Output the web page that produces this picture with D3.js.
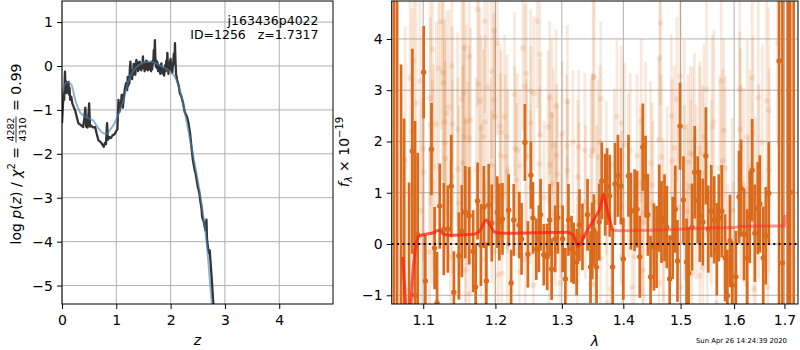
<!DOCTYPE html>
<html><head><meta charset="utf-8">
<script src="https://cdn.jsdelivr.net/npm/d3@7"></script>
<style>body{margin:0;background:#fff} text{font-family:"DejaVu Sans",sans-serif}</style>
</head><body><svg id="c" width="800" height="350"></svg>
<script>
// ---------- DATA ----------
const zTicks = [0,1,2,3,4];
const pTicks = [-5,-4,-3,-2,-1,0,1];
const lamTicks = [1.1,1.2,1.3,1.4,1.5,1.6,1.7];
const fTicks = [-1,0,1,2,3,4];

const pzZ = [0.00,0.015,0.03,0.04,0.05,0.055,0.065,0.075,0.085,0.095,0.105,0.12,0.13,0.14,0.15,0.17,0.19,0.22,0.24,0.27,0.30,0.33,0.36,0.39,0.41,0.43,0.445,0.47,0.49,0.50,0.515,0.54,0.57,0.61,0.64,0.67,0.70,0.73,0.75,0.77,0.79,0.81,0.83,0.845,0.87,0.90,0.93,0.96,0.98,1.00,1.02,1.04,1.055,1.07,1.09,1.10,1.12,1.14,1.16,1.18,
1.20,1.21,1.22,1.23,1.24,1.25,1.26,1.27,1.28,1.29,1.30,1.31,1.32,1.33,1.34,1.35,1.36,1.37,1.38,1.39,1.40,1.41,1.42,1.43,1.44,1.45,1.46,1.47,1.48,1.49,1.50,1.51,1.52,1.53,1.54,1.55,1.56,1.57,1.58,1.59,1.60,1.61,1.62,1.63,1.64,1.65,1.66,1.67,1.68,1.69,1.70,1.71,1.72,1.73,1.74,1.75,1.76,1.77,1.78,1.79,1.80,1.81,1.82,1.83,1.84,1.85,1.86,1.87,1.88,1.89,1.90,1.91,1.92,1.93,1.94,1.95,1.96,1.97,1.98,1.99,2.00,2.01,2.02,2.03,2.04,2.05,2.06,2.07,2.08,2.09,2.10,2.11,2.12,
2.15,2.17,2.20,2.23,2.26,2.30,2.33,2.36,2.38,2.41,2.44,2.46,2.48,2.50,2.53,2.55,2.57,2.58,2.61,2.64,2.65,2.66,2.67,2.69,2.71,2.72,2.74,2.76,2.78,2.80];
const pzLog = [-1.30,-0.95,-0.60,-0.77,-0.30,-0.13,-0.50,-0.35,-0.62,-0.45,-0.60,-0.36,-0.65,-0.50,-0.77,-0.70,-0.85,-0.95,-1.00,-1.15,-1.30,-1.33,-1.36,-1.39,-1.20,-0.95,-1.38,-1.40,-1.05,-0.85,-1.38,-1.36,-1.40,-1.39,-1.55,-1.69,-1.72,-1.76,-1.80,-1.84,-1.75,-1.78,-1.30,-1.68,-1.62,-1.64,-1.58,-1.56,-1.53,-1.48,-1.44,-0.77,-1.05,-0.95,-0.80,-0.65,-0.95,-0.70,-0.50,-0.39,
-0.55,-0.25,-0.45,-0.30,-0.40,-0.05,0.10,-0.25,-0.15,-0.30,-0.10,-0.20,0.05,-0.15,-0.05,-0.20,0.05,0.14,-0.05,0.05,-0.12,0.08,-0.05,0.10,-0.08,0.02,-0.10,0.05,-0.05,0.22,-0.02,0.08,-0.12,0.05,-0.08,0.12,-0.05,0.10,-0.10,0.02,-0.08,0.06,-0.05,0.08,-0.12,0.02,-0.08,0.12,0.05,0.36,0.10,0.59,0.15,-0.02,0.12,-0.05,0.08,-0.12,0.02,-0.10,-0.02,-0.18,0.00,0.06,-0.15,-0.05,-0.18,-0.08,-0.22,-0.05,0.02,-0.12,0.12,-0.05,0.30,0.00,-0.18,0.05,-0.08,0.10,0.16,-0.10,-0.02,-0.15,0.00,0.10,0.28,0.05,0.52,0.10,-0.18,-0.25,-0.32,
-0.45,-0.62,-0.70,-0.85,-1.05,-1.15,-1.30,-1.55,-1.80,-2.14,-2.35,-2.45,-2.60,-2.75,-2.90,-3.10,-3.25,-3.43,-3.55,-3.74,-3.60,-3.50,-3.95,-4.15,-4.27,-4.20,-4.55,-4.90,-5.30,-5.60];

const smoothZ = [0.00,0.05,0.10,0.17,0.25,0.33,0.42,0.50,0.58,0.67,0.76,0.82,0.88,0.97,1.07,1.15,1.22,1.31,1.43,1.60,1.75,1.90,2.00,2.10,2.20,2.30,2.42,2.54,2.66,2.76,2.80];
const smoothLog = [-0.65,-0.42,-0.37,-0.42,-0.80,-1.05,-1.15,-1.20,-1.25,-1.42,-1.53,-1.55,-1.46,-1.30,-1.00,-0.70,-0.35,-0.12,0.03,0.10,0.05,-0.05,-0.13,-0.30,-0.70,-1.30,-2.07,-2.90,-3.97,-5.40,-5.80];

const lightWave = [1.1745,1.1235,1.1847,1.1124,1.0879,1.1207,1.1386,1.1262,1.1562,1.1627,1.0827,1.0957,1.1268,1.0905,1.1092,1.1350,1.1313,1.1544,1.1524,1.1759,1.1782,1.1888,1.1286,1.1392,1.1097,1.1175,1.1645,1.1585,1.1852,1.1796,1.1465,1.1550,1.1631,1.1828,1.0853,1.1290,1.0762,1.1000,1.1138,1.1296,1.1470,1.1538,1.1395,1.1607,1.1006,1.1120,1.1934,1.1727,1.1483,1.0979,1.1575,1.1792,1.1083,1.1368,1.1580,1.1851,1.1856,1.0857,1.0762,1.1627,
1.1983,1.2027,1.1944,1.2404,1.2621,1.2660,1.2455,1.2434,1.2520,1.2570,1.2279,1.1978,1.2810,1.2912,1.2133,1.1990,1.2068,1.2525,1.2841,1.2785,1.3007,1.3088,1.3501,1.2169,1.2083,1.2665,1.2284,1.2320,1.2073,1.2143,1.2460,1.2871,1.2917,1.3078,1.3176,1.3267,1.3365,1.3469,1.2359,1.2655,1.2815,1.2931,1.3093,1.3251,1.2178,1.2309,1.2846,1.2725,1.2515,1.1948,1.2896,1.2987,1.3272,1.3376,1.3083,1.1993,1.2174,1.2093,1.2042,1.2440,1.2350,1.2806,1.2561,1.2972,1.3241,1.3457,
1.4642,1.4630,1.3516,1.4991,1.3625,1.4934,1.4834,1.3892,1.3963,1.4304,1.5065,1.3485,1.3609,1.4017,1.4117,1.4380,1.4612,1.4887,1.5178,1.3576,1.3848,1.4234,1.4467,1.4659,1.4846,1.5134,1.3717,1.4087,1.4292,1.4496,1.4759,1.5070,1.5185,1.3555,1.3968,1.4322,1.4507,1.4959,1.5121,1.4350,1.4689,1.3620,1.3977,1.4187,1.4694,1.4327,1.3796,1.3523,1.4147,1.4617,1.4996,1.5126,1.3729,
1.6862,1.6105,1.5752,1.5477,1.6352,1.6471,1.6637,1.6682,1.5613,1.5583,1.5800,1.6110,1.6364,1.6253,1.5252,1.5426,1.6551,1.6119,1.5346,1.5221,1.5358,1.5782,1.5726,1.5402,1.5833,1.6690,1.6304,1.6483,1.6133,1.5284,1.5565,1.6185,1.5957,1.6418,1.5490,1.6265,1.5209,1.5408,1.5352,1.5987,1.5876,1.5664,1.6239,1.6384,1.6662];
const lightFlux = [4.58,4.33,4.35,3.80,3.57,3.43,3.47,3.35,3.82,3.66,3.24,3.18,3.14,2.75,2.85,2.67,2.55,2.94,2.83,3.12,2.79,3.06,2.38,2.34,2.32,2.34,2.42,2.38,2.38,2.26,2.24,2.09,2.07,2.09,2.20,1.97,1.64,1.85,1.50,1.67,1.46,1.58,1.31,1.38,1.40,1.21,1.54,1.44,0.80,0.66,0.66,0.64,-0.16,-0.25,-0.51,-0.29,-0.58,-0.78,-0.88,-0.97,
4.17,3.92,3.37,3.82,4.35,3.70,3.33,3.08,2.98,2.94,2.92,2.81,2.85,2.69,2.48,2.48,2.30,2.36,2.51,2.28,2.16,2.77,3.26,2.09,2.18,2.12,1.87,1.83,1.73,1.70,1.72,1.93,1.73,1.91,1.99,1.89,1.83,1.73,1.52,1.56,1.54,1.36,1.44,1.31,1.42,1.25,1.17,0.90,1.11,0.92,0.58,0.74,0.88,0.82,0.33,-0.14,-0.06,-0.57,-0.60,-0.29,-0.53,-0.43,-0.80,-0.76,-0.72,-0.80,
4.31,3.63,3.26,3.27,2.83,2.83,2.49,2.48,2.36,2.40,2.28,1.83,1.99,1.93,1.83,1.95,2.03,1.87,1.77,1.70,1.54,1.72,1.58,1.70,1.62,1.60,1.29,1.34,1.19,1.15,1.09,1.01,1.11,0.82,0.72,0.60,0.80,0.72,0.64,0.43,0.47,-0.29,-0.25,-0.25,-0.25,-0.51,-0.88,-0.78,-0.84,-0.76,-0.84,-0.49,-1.15,
3.92,3.02,3.18,3.02,3.24,2.85,2.79,2.61,2.38,2.28,2.22,2.24,2.16,2.09,2.03,2.09,1.99,1.91,1.87,1.75,1.77,1.62,1.48,1.38,1.48,1.44,1.50,1.21,1.21,1.01,1.01,1.15,0.66,0.60,0.19,0.19,-0.58,-0.47,-0.62,-0.58,-0.64,-1.15,-0.78,-0.88,-0.84];
const lightErr = [1.9,2.1,1.8,2.2,2.4,2.0,1.9,2.1,1.8,1.7,2.5,2.2,2.0,2.3,2.1,1.9,2.0,1.8,1.9,1.7,1.8,1.7,2.0,1.9,2.1,2.0,1.8,1.9,1.7,1.8,1.9,1.8,1.8,1.7,2.4,2.0,2.6,2.2,2.0,1.9,1.8,1.9,1.9,1.8,2.1,2.0,1.7,1.8,1.9,2.2,1.8,1.7,2.0,1.9,1.8,1.7,1.8,2.4,2.6,1.8,
1.7,1.8,1.7,1.6,1.7,1.6,1.7,1.6,1.6,1.5,1.6,1.7,1.5,1.5,1.6,1.7,1.6,1.5,1.5,1.5,1.4,1.5,1.5,1.6,1.6,1.5,1.6,1.5,1.6,1.6,1.5,1.5,1.4,1.4,1.4,1.5,1.5,1.5,1.5,1.5,1.4,1.4,1.4,1.5,1.6,1.5,1.4,1.5,1.5,1.7,1.4,1.4,1.5,1.5,1.4,1.7,1.6,1.6,1.7,1.5,1.5,1.5,1.5,1.4,1.5,1.5,
1.6,1.6,1.5,1.6,1.5,1.6,1.6,1.5,1.5,1.6,1.7,1.5,1.5,1.6,1.5,1.6,1.6,1.6,1.7,1.5,1.5,1.6,1.6,1.6,1.6,1.7,1.5,1.6,1.5,1.6,1.6,1.7,1.7,1.5,1.5,1.6,1.6,1.6,1.7,1.6,1.6,1.5,1.5,1.6,1.6,1.6,1.5,1.5,1.6,1.6,1.6,1.7,1.5,
2.0,1.9,1.8,1.8,1.9,1.9,2.0,2.0,1.8,1.8,1.8,1.9,1.9,1.9,1.7,1.8,1.9,1.9,1.7,1.7,1.7,1.8,1.8,1.7,1.8,2.0,1.9,1.9,1.9,1.7,1.8,1.9,1.8,1.9,1.8,1.9,1.7,1.7,1.7,1.8,1.8,1.8,1.9,1.9,2.0];

const darkWave = [1.0619,1.0659,1.0710,1.0749,1.0814,1.0857,1.0892,1.0927,1.1006,1.1028,1.1110,1.1152,1.1185,1.1221,1.1276,1.1331,1.1378,1.1414,1.1483,1.1524,1.1571,1.1627,1.1682,1.1718,1.1745,1.1792,1.1834,1.1870,1.1903,1.1948,1.2027,1.2057,1.2102,1.2193,1.2229,1.2268,1.2350,1.2384,1.2434,1.2479,1.2524,1.2555,1.2606,1.2645,1.2671,1.2720,1.2772,1.2811,1.2841,1.2896,1.2937,1.3013,1.3055,1.3104,1.3153,1.3186,1.3234,1.3278,1.3327,1.3409,1.3457,1.3485,1.3511,1.3555,1.3599,1.3641,1.3697,1.3729,1.3772,1.3821,1.3860,1.3909,1.3958,1.4000,1.4087,1.4129,1.4192,1.4234,1.4280,1.4332,1.4380,1.4420,1.4467,1.4525,1.4572,1.4619,1.4659,1.4712,1.4752,1.4804,1.4857,1.4904,1.4944,1.4991,1.5052,1.5108,1.5146,1.5209,1.5258,1.5314,1.5352,1.5408,1.5464,1.5509,1.5565,1.5621,1.5670,1.5707,1.5763,1.5826,1.5870,1.5920,1.5963,1.6034,1.6094,1.6133,1.6193,1.6253,1.6304,1.6352,1.6404,1.6463,1.6503,1.6571,1.6622,1.6682,1.6890,1.6959,1.7066,1.7117,1.7190];
const darkFlux = [-3,-3,-1.6,-1.5,-1.4,1.81,-1.0,0.18,3.35,-0.72,1.85,-0.08,-1.15,0.74,0.29,0.29,1.13,-0.94,-0.23,0.25,0.62,0.55,-0.14,-0.84,0.84,-0.02,0.72,-0.72,0.76,0.41,0.62,0.43,0.49,0.66,-0.76,0.47,0.37,0.10,1.98,-0.20,1.34,0.51,-0.10,0.10,0.57,-0.21,-0.25,0.47,-0.49,0.10,0.51,0.10,-0.68,0.47,-0.10,-0.18,-0.35,0.37,0.14,0.57,-0.45,0.06,0.27,-0.45,0.43,1.23,0.96,1.12,0.94,-0.45,1.17,1.33,1.13,-0.29,1.33,0.64,0.66,0.68,-0.25,1.89,1.31,0.57,-0.64,-0.06,-0.06,0.70,0.43,0.51,0.33,-0.68,0.12,0.68,-0.33,2.30,0.86,-0.35,-0.57,0.33,1.40,0.86,0.55,0.43,1.72,0.29,0.64,0.47,-0.10,0.51,0.64,-0.27,-1.01,0.06,-0.80,-0.64,0.92,1.09,0.19,-0.27,0.53,1.44,0.21,0.70,0.78,-0.27,0.16,0.99,3.57,-0.37,-3,1.01,-3];
const darkErr = [10,10,5.1,3.95,2.6,2.0,3.4,1.6,0.9,0.9,0.9,0.8,1.0,0.83,0.9,0.85,1.0,0.8,0.85,0.9,0.9,0.95,0.8,0.85,0.75,0.8,0.8,0.75,0.8,0.75,0.7,0.75,0.7,0.7,0.65,0.7,0.65,0.7,0.75,0.65,0.65,0.7,0.6,0.65,0.7,0.6,0.65,0.7,0.6,0.65,0.7,0.65,0.6,0.7,0.65,0.6,0.65,0.7,0.65,0.7,0.7,0.75,0.7,0.7,0.75,0.75,0.8,0.75,0.8,0.75,0.8,0.8,0.75,0.8,0.8,0.75,0.8,0.75,0.8,0.85,0.8,0.8,0.8,0.85,0.8,0.85,0.8,0.85,0.8,0.85,0.8,0.85,0.8,0.85,0.85,0.85,0.9,0.85,0.9,0.85,0.9,0.85,0.95,0.85,0.9,0.85,0.9,0.85,0.9,0.85,0.9,0.9,0.85,0.9,0.9,0.95,0.9,0.95,0.9,1.0,0.95,0.9,0.95,1.0,0.95,1.0,10,10,10,10,10];

const modelWaveA = [1.0732,1.0812,1.0870,1.0935,1.1000,1.1138,1.1207,1.1276,1.1368,1.1690,1.1783,1.1866,1.1921,1.1993,1.2118,1.3078,1.3176,1.3257,1.3294,1.3404,1.3539,1.3620,1.3664,1.3718,1.3772,1.3821];
const modelFluxA = [-0.25,-1.60,-0.44,0.14,0.18,0.22,0.27,0.19,0.17,0.19,0.27,0.47,0.37,0.23,0.21,0.23,0.18,-0.05,0.01,0.27,0.53,0.73,0.96,0.73,0.47,0.27];
const modelWaveB = [1.3821,1.3946,1.4500,1.4991,1.5500,1.5987,1.6119,1.6600,1.7000,1.7015];
const modelFluxB = [0.27,0.26,0.27,0.29,0.31,0.32,0.34,0.35,0.35,0.57];

const objName = "j163436p4022";
const objInfo = "ID=1256   z=1.7317";
const stamp = "Sun Apr 26 14:24:39 2020";

// ---------- LAYOUT ----------
const svg = d3.select('#c');
const L = {x0:62, x1:333, y0:1, y1:304};
const R = {x0:391.7, x1:798, y0:1, y1:304};
const xz = d3.scaleLinear().domain([0,4.99]).range([L.x0,L.x1]);
const yp = d3.scaleLinear().domain([-5.42,1.48]).range([L.y1,L.y0]);
const xl = d3.scaleLog().domain([1.059,1.728]).range([R.x0,R.x1]);
const yf = d3.scaleLinear().domain([-1.17,4.74]).range([R.y1,R.y0]);
const gridCol = '#b0b0b0';
const orange = '#da6a1c';

const defs = svg.append('defs');
defs.append('clipPath').attr('id','cl').append('rect').attr('x',L.x0).attr('y',L.y0).attr('width',L.x1-L.x0).attr('height',L.y1-L.y0);
defs.append('clipPath').attr('id','cr').append('rect').attr('x',R.x0).attr('y',R.y0).attr('width',R.x1-R.x0).attr('height',R.y1-R.y0);

function styleAxis(g){
  g.select('.domain').remove();
  g.selectAll('line').attr('stroke','#000').attr('stroke-width',1);
  g.selectAll('text').attr('font-size',14).attr('fill','#000').attr('font-family','DejaVu Sans');
}

// ---------- LEFT PANEL ----------
const gL = svg.append('g');
gL.append('g').selectAll('line').data(zTicks).join('line')
  .attr('x1',d=>xz(d)).attr('x2',d=>xz(d)).attr('y1',L.y0).attr('y2',L.y1)
  .attr('stroke',gridCol).attr('stroke-width',1);
gL.append('g').selectAll('line').data(pTicks).join('line')
  .attr('x1',L.x0).attr('x2',L.x1).attr('y1',d=>yp(d)).attr('y2',d=>yp(d))
  .attr('stroke',gridCol).attr('stroke-width',1);
const cL = gL.append('g').attr('clip-path','url(#cl)');
cL.append('path').datum(d3.range(pzZ.length))
  .attr('d', d3.line().x(i=>xz(pzZ[i])).y(i=>yp(pzLog[i])))
  .attr('fill','none').attr('stroke','#333').attr('stroke-width',2.3).attr('stroke-linejoin','round');
cL.append('path').datum(d3.range(smoothZ.length))
  .attr('d', d3.line().curve(d3.curveMonotoneX).x(i=>xz(smoothZ[i])).y(i=>yp(smoothLog[i])))
  .attr('fill','none').attr('stroke','steelblue').attr('stroke-opacity',0.6).attr('stroke-width',2);
gL.append('rect').attr('x',L.x0).attr('y',L.y0).attr('width',L.x1-L.x0).attr('height',L.y1-L.y0)
  .attr('fill','none').attr('stroke','#000').attr('stroke-width',1);
gL.append('g').attr('transform',`translate(0,${L.y1})`)
  .call(d3.axisBottom(xz).tickValues(zTicks).tickSize(5).tickPadding(6).tickFormat(d3.format('d'))).call(styleAxis);
gL.append('g').attr('transform',`translate(${L.x0},0)`)
  .call(d3.axisLeft(yp).tickValues(pTicks).tickSize(5).tickPadding(4).tickFormat(d3.format('d'))).call(styleAxis);

gL.append('text').attr('x',318.5).attr('y',24.5).attr('text-anchor','end').attr('font-size',12.5).text(objName);
gL.append('text').attr('x',318.5).attr('y',39).attr('text-anchor','end').attr('font-size',12.5)
  .style('white-space','pre').text(objInfo);
gL.append('text').attr('x',(L.x0+L.x1)/2).attr('y',345).attr('text-anchor','middle')
  .attr('font-size',14).attr('font-style','italic').text('z');

// left y label with fraction
{
  const outer = svg.append('g').attr('transform','translate(21,154) rotate(-90)');
  const g = outer.append('g');
  const t1 = g.append('text').attr('font-size',14).attr('x',0).attr('y',0);
  t1.append('tspan').text('log ');
  t1.append('tspan').attr('font-style','italic').text('p');
  t1.append('tspan').text('(');
  t1.append('tspan').attr('font-style','italic').text('z');
  t1.append('tspan').text(') / ');
  t1.append('tspan').attr('font-style','italic').text('χ');
  t1.append('tspan').attr('font-size',10).attr('dy',-6).text('2');
  t1.append('tspan').attr('dy',6).style('white-space','pre').text(' = ');
  const w1 = t1.node().getComputedTextLength();
  const num = g.append('text').attr('font-size',9.5).attr('x',w1+1).attr('y',-7.5).text('4282');
  const den = g.append('text').attr('font-size',9.5).attr('x',w1+1).attr('y',4.5).text('4310');
  const fw = Math.max(num.node().getComputedTextLength(), den.node().getComputedTextLength());
  g.append('line').attr('x1',w1).attr('x2',w1+fw+2).attr('y1',-5).attr('y2',-5).attr('stroke','#000').attr('stroke-width',0.8);
  const t3 = g.append('text').attr('font-size',14).attr('x',w1+fw+3).attr('y',0).style('white-space','pre').text(' = 0.99');
  const W = w1+fw+3+t3.node().getComputedTextLength();
  g.attr('transform',`translate(${-W/2},0)`);
}

// ---------- RIGHT PANEL ----------
const gR = svg.append('g');
gR.append('g').selectAll('line').data(lamTicks).join('line')
  .attr('x1',d=>xl(d)).attr('x2',d=>xl(d)).attr('y1',R.y0).attr('y2',R.y1)
  .attr('stroke',gridCol).attr('stroke-width',1);
gR.append('g').selectAll('line').data(fTicks).join('line')
  .attr('x1',R.x0).attr('x2',R.x1).attr('y1',d=>yf(d)).attr('y2',d=>yf(d))
  .attr('stroke',gridCol).attr('stroke-width',1);
const cR = gR.append('g').attr('clip-path','url(#cr)');

function drawPts(wave, flux, err, opacity, w, r){
  const g = cR.append('g');
  const idx = d3.range(wave.length);
  g.selectAll('line').data(idx).join('line')
    .attr('x1',i=>xl(wave[i])).attr('x2',i=>xl(wave[i]))
    .attr('y1',i=>yf(flux[i]-err[i])).attr('y2',i=>yf(flux[i]+err[i]))
    .attr('stroke',orange).attr('stroke-width',w).attr('stroke-opacity',opacity);
  g.selectAll('circle').data(idx).join('circle')
    .attr('cx',i=>xl(wave[i])).attr('cy',i=>yf(flux[i])).attr('r',r)
    .attr('fill',orange).attr('fill-opacity',opacity);
}
drawPts(lightWave, lightFlux, lightErr, 0.15, 2.8, 2.8);
drawPts(darkWave, darkFlux, darkErr, 1, 2.7, 2.7);

cR.append('path').datum(d3.range(modelWaveA.length))
  .attr('d', d3.line().curve(d3.curveMonotoneX).x(i=>xl(modelWaveA[i])).y(i=>yf(modelFluxA[i])))
  .attr('fill','none').attr('stroke','#ff2010').attr('stroke-opacity',0.75).attr('stroke-width',3);
cR.append('path').datum(d3.range(modelWaveB.length))
  .attr('d', d3.line().x(i=>xl(modelWaveB[i])).y(i=>yf(modelFluxB[i])))
  .attr('fill','none').attr('stroke','#ff2a2a').attr('stroke-opacity',0.5).attr('stroke-width',3);
cR.append('line').attr('x1',R.x0).attr('x2',R.x1).attr('y1',yf(0)).attr('y2',yf(0))
  .attr('stroke','#000').attr('stroke-width',2).attr('stroke-dasharray','2,3.3');

gR.append('rect').attr('x',R.x0).attr('y',R.y0).attr('width',R.x1-R.x0).attr('height',R.y1-R.y0)
  .attr('fill','none').attr('stroke','#000').attr('stroke-width',1);
gR.append('g').attr('transform',`translate(0,${R.y1})`)
  .call(d3.axisBottom(xl).tickValues(lamTicks).tickSize(5).tickPadding(6).tickFormat(d3.format('.1f'))).call(styleAxis);
gR.append('g').attr('transform',`translate(${R.x0},0)`)
  .call(d3.axisLeft(yf).tickValues(fTicks).tickSize(5).tickPadding(4).tickFormat(d3.format('d'))).call(styleAxis);

gR.append('text').attr('x',(R.x0+R.x1)/2).attr('y',346).attr('text-anchor','middle')
  .attr('font-size',14).attr('font-style','italic').text('λ');
{
  const t = svg.append('text').attr('transform','translate(349,152) rotate(-90)').attr('text-anchor','middle').attr('font-size',14);
  t.append('tspan').attr('font-style','italic').text('f');
  t.append('tspan').attr('font-style','italic').attr('font-size',10).attr('dy',3).text('λ');
  t.append('tspan').attr('dy',-3).style('white-space','pre').text(' × 10');
  t.append('tspan').attr('font-size',10).attr('dy',-6).text('−19');
}
svg.append('text').attr('x',787).attr('y',343).attr('text-anchor','end').attr('font-size',6.9).text(stamp);
</script></body></html>
